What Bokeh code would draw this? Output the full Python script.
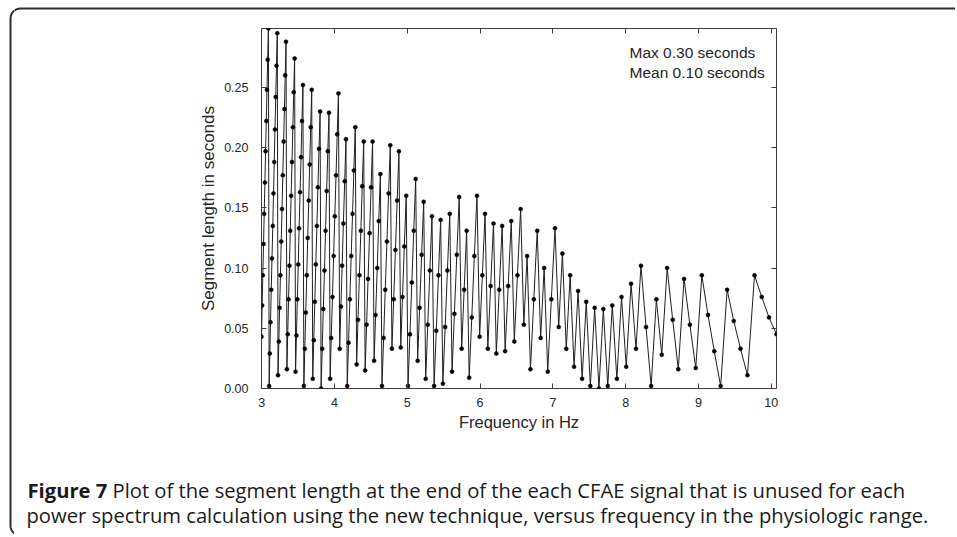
import math
from bokeh.plotting import figure
from bokeh.layouts import row, column
from bokeh.models import Range1d, FixedTicker, LinearAxis, Label
from bokeh.core.properties import value
from bokeh.embed import file_html
from bokeh.resources import INLINE

# ---- data (frequency in Hz, unused segment length in s) ----
freq_hz = [
    10.072, 9.969, 9.869, 9.770, 9.673, 9.578, 9.485, 9.394, 9.305, 9.217,
    9.131, 9.046, 8.963, 8.882, 8.802, 8.723, 8.646, 8.570, 8.496, 8.422,
    8.350, 8.280, 8.210, 8.142, 8.074, 8.008, 7.943, 7.879, 7.816, 7.754,
    7.693, 7.633, 7.574, 7.515, 7.458, 7.402, 7.346, 7.291, 7.237, 7.184,
    7.131, 7.080, 7.029, 6.979, 6.929, 6.880, 6.832, 6.785, 6.738, 6.692,
    6.646, 6.601, 6.557, 6.513, 6.470, 6.428, 6.386, 6.344, 6.303, 6.263,
    6.223, 6.184, 6.145, 6.106, 6.068, 6.031, 5.994, 5.957, 5.921, 5.886,
    5.850, 5.815, 5.781, 5.747, 5.713, 5.680, 5.647, 5.615, 5.583, 5.551,
    5.520, 5.489, 5.458, 5.428, 5.398, 5.368, 5.339, 5.310, 5.281, 5.253,
    5.225, 5.197, 5.169, 5.142, 5.115, 5.089, 5.062, 5.036, 5.010, 4.985,
    4.959, 4.934, 4.910, 4.885, 4.861, 4.837, 4.813, 4.789, 4.766, 4.743,
    4.720, 4.697, 4.675, 4.652, 4.630, 4.608, 4.587, 4.565, 4.544, 4.523,
    4.502, 4.482, 4.461, 4.441, 4.421, 4.401, 4.381, 4.362, 4.342, 4.323,
    4.304, 4.285, 4.266, 4.248, 4.229, 4.211, 4.193, 4.175, 4.157, 4.140,
    4.122, 4.105, 4.088, 4.071, 4.054, 4.037, 4.021, 4.004, 3.988, 3.972,
    3.955, 3.940, 3.924, 3.908, 3.892, 3.877, 3.862, 3.846, 3.831, 3.816,
    3.802, 3.787, 3.772, 3.758, 3.743, 3.729, 3.715, 3.701, 3.687, 3.673,
    3.659, 3.646, 3.632, 3.619, 3.605, 3.592, 3.579, 3.566, 3.553, 3.540,
    3.527, 3.514, 3.502, 3.489, 3.477, 3.465, 3.452, 3.440, 3.428, 3.416,
    3.404, 3.392, 3.381, 3.369, 3.357, 3.346, 3.334, 3.323, 3.312, 3.301,
    3.290, 3.279, 3.268, 3.257, 3.246, 3.235, 3.224, 3.214, 3.203, 3.193,
    3.182, 3.172, 3.162, 3.152, 3.141, 3.131, 3.121, 3.111, 3.102, 3.092,
    3.082, 3.072, 3.063, 3.053, 3.044, 3.034, 3.025, 3.015, 3.006, 2.997,
]
segment_s = [
    0.045, 0.059, 0.076, 0.094, 0.011, 0.033, 0.056, 0.082, 0.002, 0.031,
    0.061, 0.094, 0.017, 0.053, 0.091, 0.016, 0.057, 0.100, 0.028, 0.074,
    0.002, 0.051, 0.102, 0.033, 0.087, 0.018, 0.076, 0.008, 0.069, 0.002,
    0.066, 0.000, 0.067, 0.002, 0.072, 0.008, 0.081, 0.018, 0.094, 0.033,
    0.112, 0.051, 0.133, 0.074, 0.014, 0.100, 0.042, 0.131, 0.074, 0.016,
    0.110, 0.053, 0.149, 0.094, 0.039, 0.139, 0.085, 0.031, 0.135, 0.082,
    0.029, 0.137, 0.085, 0.033, 0.145, 0.094, 0.043, 0.160, 0.110, 0.059,
    0.009, 0.131, 0.082, 0.033, 0.159, 0.111, 0.062, 0.014, 0.145, 0.098,
    0.051, 0.004, 0.140, 0.094, 0.048, 0.002, 0.143, 0.098, 0.053, 0.008,
    0.155, 0.111, 0.067, 0.023, 0.174, 0.131, 0.088, 0.045, 0.002, 0.160,
    0.118, 0.076, 0.034, 0.197, 0.156, 0.115, 0.074, 0.033, 0.202, 0.162,
    0.122, 0.082, 0.042, 0.002, 0.178, 0.139, 0.100, 0.061, 0.023, 0.205,
    0.167, 0.129, 0.091, 0.053, 0.015, 0.205, 0.168, 0.131, 0.094, 0.057,
    0.020, 0.217, 0.181, 0.145, 0.110, 0.074, 0.038, 0.002, 0.207, 0.172,
    0.137, 0.102, 0.068, 0.033, 0.245, 0.211, 0.177, 0.143, 0.110, 0.076,
    0.042, 0.008, 0.229, 0.197, 0.164, 0.131, 0.098, 0.066, 0.033, 0.000,
    0.230, 0.199, 0.167, 0.135, 0.103, 0.072, 0.040, 0.008, 0.248, 0.217,
    0.186, 0.156, 0.125, 0.094, 0.063, 0.033, 0.002, 0.252, 0.222, 0.192,
    0.163, 0.133, 0.103, 0.074, 0.044, 0.014, 0.274, 0.246, 0.217, 0.188,
    0.160, 0.131, 0.102, 0.074, 0.045, 0.016, 0.288, 0.260, 0.232, 0.205,
    0.177, 0.149, 0.122, 0.094, 0.067, 0.039, 0.011, 0.295, 0.268, 0.242,
    0.215, 0.188, 0.162, 0.135, 0.108, 0.082, 0.055, 0.029, 0.002, 0.299,
    0.273, 0.248, 0.222, 0.197, 0.171, 0.145, 0.120, 0.094, 0.069, 0.043,
]
x_ticks = [3, 4, 5, 6, 7, 8, 9, 10]
y_ticks = [0.00, 0.05, 0.10, 0.15, 0.20, 0.25]
y_tick_labels = ["0.00", "0.05", "0.10", "0.15", "0.20", "0.25"]
x_title = "Frequency in Hz"
y_title = "Segment length in seconds"
stats_lines = ["Max 0.30 seconds", "Mean 0.10 seconds"]
caption_bold = "Figure 7"
caption_line1 = "Plot of the segment length at the end of the each CFAE signal that is unused for each"
caption_line2 = "power spectrum calculation using the new technique, versus frequency in the physiologic range."

# ---- page layout (page pixels) ----
PAGE_W, PAGE_H = 955, 535
STRIP_L, STRIP_T = 14, 14          # left / top decoration strips
CHART_H = 446
CAP_H = PAGE_H - STRIP_T - CHART_H
INNER_W = PAGE_W - STRIP_L
# chart frame inside the chart figure
FL, FR, FT, FB = 247, 762, 14, 374
X0, X1 = 2.997, 10.072
Y0, Y1 = 0.0, 0.2989

def dx(cx):
    return X0 + (cx - FL) * (X1 - X0) / (FR - FL)

def dy(cy):
    return Y0 + (FB - cy) * (Y1 - Y0) / (FB - FT)

AX_FONT = "Liberation Sans"
TXT = "#262626"
EDGE = "#2e2e2e"

def deco_fig(w, h, x0, x1, y0, y1):
    f = figure(width=w, height=h, output_backend="svg", toolbar_location=None,
               x_range=Range1d(x0, x1), y_range=Range1d(y1, y0),
               x_axis_type=None, y_axis_type=None, min_border=0,
               frame_align=False)
    f.grid.visible = False
    f.outline_line_color = None
    f.background_fill_color = "white"
    f.border_fill_color = "white"
    return f

# rounded page border (top + left edges)
R = 10
arc_top = [(20 - R * math.cos(math.radians(a)), 18 - R * math.sin(math.radians(a))) for a in range(0, 91, 5)]
arc_bot = [(20 - R * math.cos(math.radians(a)), 525 + R * math.sin(math.radians(a))) for a in range(0, 91, 5)]
border_x = [q[0] for q in reversed(arc_bot)] + [q[0] for q in arc_top] + [PAGE_W + 5]
border_y = [q[1] for q in reversed(arc_bot)] + [q[1] for q in arc_top] + [8]

left_fig = deco_fig(STRIP_L, PAGE_H, 0, STRIP_L, 0, PAGE_H)
left_fig.line(border_x, border_y, line_color=EDGE, line_width=2)
top_fig = deco_fig(INNER_W, STRIP_T, STRIP_L, PAGE_W, 0, STRIP_T)
top_fig.line(border_x, border_y, line_color=EDGE, line_width=2)

# ---- chart ----
p = figure(width=INNER_W, height=CHART_H, output_backend="svg", toolbar_location=None,
           x_range=Range1d(X0, X1), y_range=Range1d(Y0, Y1),
           min_border_left=FL, min_border_right=INNER_W - FR,
           min_border_top=FT, min_border_bottom=CHART_H - FB,
           frame_align=False)
p.grid.visible = False
p.outline_line_color = "#3c3c3c"
p.outline_line_width = 1
p.background_fill_color = "white"
p.border_fill_color = "white"

def style_axis(ax, ticks):
    ax.ticker = FixedTicker(ticks=ticks)
    ax.axis_line_color = None
    ax.major_tick_in = 5
    ax.major_tick_out = 0
    ax.major_tick_line_color = "#3c3c3c"
    ax.minor_tick_line_color = None
    ax.major_label_text_font = AX_FONT
    ax.major_label_text_font_size = "12.5px"
    ax.major_label_text_color = TXT
    ax.axis_label_text_font = AX_FONT
    ax.axis_label_text_font_size = "17px"
    ax.axis_label_text_font_style = "normal"
    ax.axis_label_text_color = TXT

style_axis(p.xaxis[0], x_ticks)
style_axis(p.yaxis[0], y_ticks)
p.xaxis.axis_label = x_title
p.yaxis.axis_label = y_title
p.xaxis.axis_label_text_font_size = "16.5px"
p.xaxis.major_label_standoff = 9
p.xaxis.axis_label_standoff = 3
p.yaxis.major_label_standoff = 13
p.yaxis.axis_label_standoff = 3
p.yaxis.major_label_overrides = {t: s for t, s in zip(y_ticks, y_tick_labels)}

top = LinearAxis()
style_axis(top, x_ticks)
top.major_label_overrides = {t: "" for t in x_ticks}
top.major_label_text_font_size = "1px"
top.major_label_standoff = 0
p.add_layout(top, "above")
right = LinearAxis()
style_axis(right, y_ticks)
right.major_label_overrides = {t: "" for t in y_ticks}
right.major_label_text_font_size = "1px"
right.major_label_standoff = 0
p.add_layout(right, "right")

p.line(freq_hz, segment_s, line_color="#1f1f1f", line_width=1)
p.scatter(freq_hz, segment_s, size=4, fill_color="black", line_color="black", line_width=0.5)

for i, s in enumerate(stats_lines):
    p.add_layout(Label(x=dx(615), y=dy(38.3 + 19.4 * i), text=s, text_font=AX_FONT,
                       text_font_size="15.5px", text_color=TXT, text_baseline="alphabetic"))

# ---- caption ----
cap = deco_fig(INNER_W, CAP_H, STRIP_L, PAGE_W, STRIP_T + CHART_H, PAGE_H)
CAP_FONT = value("Open Sans")
CAP_SIZE = "20.2px"
cap.text(x=[27], y=[489], text=[caption_bold], text_font=CAP_FONT, text_font_size=CAP_SIZE,
         text_font_style="bold", text_color="#1a1a1a", text_baseline="alphabetic")
cap.text(x=[112], y=[489], text=[caption_line1], text_font=CAP_FONT, text_font_size=CAP_SIZE,
         text_color="#1a1a1a", text_baseline="alphabetic")
cap.text(x=[26], y=[514.5], text=[caption_line2], text_font=CAP_FONT, text_font_size=CAP_SIZE,
         text_color="#1a1a1a", text_baseline="alphabetic")

layout = row(left_fig, column(top_fig, p, cap, spacing=0), spacing=0)
open("out.html", "w").write(file_html(layout, INLINE))
